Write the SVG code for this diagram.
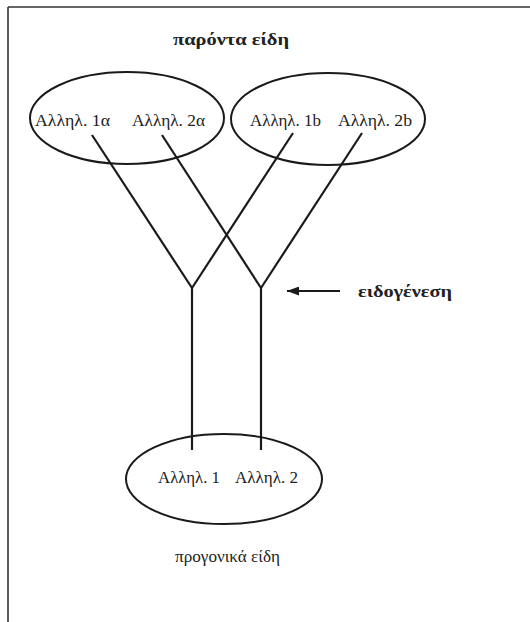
<svg xmlns="http://www.w3.org/2000/svg" width="530" height="622" viewBox="0 0 530 622">
<style>
.t{font-family:"Liberation Serif","DejaVu Serif",serif;font-size:16px;fill:#222}
.b{font-family:"Liberation Serif","DejaVu Serif",serif;font-size:16px;font-weight:bold;fill:#222}
.e{fill:none;stroke:#1a1a1a;stroke-width:2}
.c{stroke:#1a1a1a;stroke-width:2.2;fill:none}
</style>
<defs>
<marker id="ah" markerWidth="12" markerHeight="9" refX="12" refY="4.5" orient="auto" markerUnits="userSpaceOnUse">
<path d="M0,0 L12,4.5 L0,9 Z" fill="#1a1a1a"/>
</marker>
</defs>
<rect width="530" height="622" fill="#fff"/>
<g id="frame">
<line x1="8" y1="7" x2="530" y2="7" stroke="#333" stroke-width="1.6"/>
<line x1="8" y1="7" x2="8" y2="622" stroke="#333" stroke-width="1.6"/>
</g>
<text class="b" x="173" y="45" textLength="116" lengthAdjust="spacingAndGlyphs">παρόντα είδη</text>
<g id="connectors">
<line class="c" x1="92" y1="135" x2="192" y2="288"/>
<line class="c" x1="162" y1="135" x2="261" y2="288"/>
<line class="c" x1="293" y1="133" x2="192" y2="288"/>
<line class="c" x1="362" y1="133" x2="261" y2="288"/>
<line class="c" x1="192" y1="288" x2="192" y2="450"/>
<line class="c" x1="261" y1="288" x2="261" y2="450"/>
<line x1="340" y1="291" x2="287" y2="291" stroke="#1a1a1a" stroke-width="1.8" marker-end="url(#ah)"/>
</g>
<g id="present-a">
<ellipse class="e" cx="127" cy="118" rx="97" ry="46"/>
<text class="t" x="35" y="126" textLength="75" lengthAdjust="spacingAndGlyphs">Αλληλ. 1α</text>
<text class="t" x="132" y="126" textLength="73" lengthAdjust="spacingAndGlyphs">Αλληλ. 2α</text>
</g>
<g id="present-b">
<ellipse class="e" cx="328" cy="119" rx="97" ry="46"/>
<text class="t" x="250" y="126" textLength="71" lengthAdjust="spacingAndGlyphs">Αλληλ. 1b</text>
<text class="t" x="338" y="126" textLength="74" lengthAdjust="spacingAndGlyphs">Αλληλ. 2b</text>
</g>
<g id="speciation">
<text class="b" x="358" y="297" textLength="94" lengthAdjust="spacingAndGlyphs">ειδογένεση</text>
</g>
<g id="ancestral">
<ellipse class="e" cx="224" cy="479" rx="98" ry="45"/>
<text class="t" x="158" y="483" textLength="62" lengthAdjust="spacingAndGlyphs">Αλληλ. 1</text>
<text class="t" x="235" y="483" textLength="63" lengthAdjust="spacingAndGlyphs">Αλληλ. 2</text>
<text class="t" x="175" y="562" textLength="105" lengthAdjust="spacingAndGlyphs">προγονικά είδη</text>
</g>
</svg>
